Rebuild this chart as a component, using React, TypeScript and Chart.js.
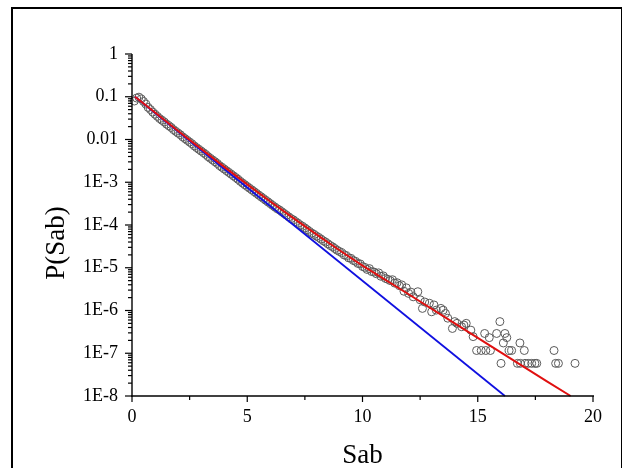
import React, { useEffect, useRef } from 'react';
import { Chart, registerables } from 'chart.js';

Chart.register(...registerables);

// ---- Data ----
const sabValues = [
  0.1, 0.2, 0.3, 0.4, 0.5, 0.6, 0.7, 0.8, 0.9, 1.0,
  1.1, 1.2, 1.3, 1.4, 1.5, 1.6, 1.7, 1.8, 1.9, 2.0,
  2.1, 2.2, 2.3, 2.4, 2.5, 2.6, 2.7, 2.8, 2.9, 3.0,
  3.1, 3.2, 3.3, 3.4, 3.5, 3.6, 3.7, 3.8, 3.9, 4.0,
  4.1, 4.2, 4.3, 4.4, 4.5, 4.6, 4.7, 4.8, 4.9, 5.0,
  5.1, 5.2, 5.3, 5.4, 5.5, 5.6, 5.7, 5.8, 5.9, 6.0,
  6.1, 6.2, 6.3, 6.4, 6.5, 6.6, 6.7, 6.8, 6.9, 7.0,
  7.1, 7.2, 7.3, 7.4, 7.5, 7.6, 7.7, 7.8, 7.9, 8.0,
  8.1, 8.2, 8.3, 8.4, 8.5, 8.6, 8.7, 8.8, 8.9, 9.0,
  9.1, 9.2, 9.3, 9.4, 9.5, 9.6, 9.7, 9.8, 9.9, 10.0,
  10.1, 10.2, 10.3, 10.4, 10.5, 10.6, 10.7, 10.8, 10.9, 11.0,
  11.1, 11.2, 11.3, 11.4, 11.5, 11.6, 11.7, 11.8, 11.9, 12.0,
  12.1, 12.2, 12.4, 12.5, 12.6, 12.7, 12.9, 13.0, 13.1, 13.2,
  13.4, 13.5, 13.6, 13.7, 13.9, 14.0, 14.1, 14.3, 14.4, 14.5,
  14.7, 14.8, 14.95, 15.15, 15.3, 15.35, 15.5, 15.55, 15.82, 15.96,
  16.01, 16.11, 16.18, 16.26, 16.36, 16.47, 16.72, 16.83, 16.85, 17.02,
  17.05, 17.19, 17.34, 17.48, 17.56, 18.31, 18.38, 18.5, 19.22,
];

const pValues = [
  7.94e-2, 9.33e-2, 9.77e-2, 8.91e-2, 7.76e-2, 6.76e-2, 5.62e-2, 5.01e-2, 4.37e-2, 3.89e-2,
  3.47e-2, 3.09e-2, 2.82e-2, 2.57e-2, 2.29e-2, 2.09e-2, 1.91e-2, 1.70e-2, 1.55e-2, 1.41e-2,
  1.29e-2, 1.15e-2, 1.05e-2, 9.55e-3, 8.71e-3, 7.94e-3, 7.08e-3, 6.46e-3, 5.89e-3, 5.37e-3,
  4.90e-3, 4.47e-3, 3.98e-3, 3.63e-3, 3.31e-3, 3.02e-3, 2.75e-3, 2.45e-3, 2.24e-3, 2.04e-3,
  1.86e-3, 1.70e-3, 1.55e-3, 1.41e-3, 1.29e-3, 1.17e-3, 1.05e-3, 9.55e-4, 8.71e-4, 7.94e-4,
  7.24e-4, 6.61e-4, 6.03e-4, 5.50e-4, 5.01e-4, 4.57e-4, 4.17e-4, 3.80e-4, 3.47e-4, 3.16e-4,
  2.88e-4, 2.63e-4, 2.40e-4, 2.24e-4, 2.04e-4, 1.86e-4, 1.70e-4, 1.55e-4, 1.41e-4, 1.32e-4,
  1.20e-4, 1.10e-4, 1.00e-4, 9.33e-5, 8.51e-5, 7.76e-5, 7.08e-5, 6.46e-5, 6.03e-5, 5.50e-5,
  5.13e-5, 4.68e-5, 4.27e-5, 3.98e-5, 3.63e-5, 3.31e-5, 3.09e-5, 2.82e-5, 2.57e-5, 2.40e-5,
  2.24e-5, 2.00e-5, 1.91e-5, 1.70e-5, 1.66e-5, 1.48e-5, 1.41e-5, 1.26e-5, 1.23e-5, 1.07e-5,
  1.02e-5, 9.12e-6, 9.55e-6, 8.13e-6, 7.94e-6, 7.24e-6, 7.59e-6, 6.31e-6, 6.46e-6, 5.62e-6,
  5.37e-6, 5.01e-6, 5.25e-6, 4.37e-6, 4.47e-6, 3.80e-6, 3.98e-6, 2.82e-6, 3.39e-6, 2.51e-6,
  2.69e-6, 2.09e-6, 2.75e-6, 1.78e-6, 1.12e-6, 1.58e-6, 1.48e-6, 9.33e-7, 1.35e-6, 1.02e-6,
  1.12e-6, 1.02e-6, 8.51e-7, 6.61e-7, 3.80e-7, 5.50e-7, 5.01e-7, 4.17e-7, 4.57e-7, 5.01e-7,
  3.47e-7, 2.45e-7, 1.16e-7, 1.16e-7, 2.9e-7, 1.16e-7, 2.32e-7, 1.16e-7, 2.9e-7, 5.5e-7,
  5.8e-8, 1.74e-7, 2.9e-7, 2.32e-7, 1.16e-7, 1.16e-7, 5.8e-8, 1.74e-7, 5.8e-8, 1.16e-7,
  5.8e-8, 5.8e-8, 5.8e-8, 5.8e-8, 5.8e-8, 1.16e-7, 5.8e-8, 5.8e-8, 5.8e-8,
];

const redSab = [0.13, 1, 2, 3, 4, 5, 6, 7, 8, 9, 10, 12, 14, 16, 18, 19.03];
const redP = [
  1.0e-1, 4.27e-2, 1.58e-2, 6.03e-3, 2.29e-3, 8.91e-4, 3.55e-4, 1.45e-4,
  6.03e-5, 2.57e-5, 1.12e-5, 2.40e-6, 5.01e-7, 1.05e-7, 2.19e-8, 1.0e-8,
];

const blueSab = [0.13, 16.18];
const blueP = [1.0e-1, 1.0e-8];

const xTickValues = [0, 5, 10, 15, 20];
const xMinorTicks = [2.5, 7.5, 12.5, 17.5];
const yTickValues = [1, 0.1, 0.01, 1e-3, 1e-4, 1e-5, 1e-6, 1e-7, 1e-8];
const yTickLabels = ['1', '0.1', '0.01', '1E-3', '1E-4', '1E-5', '1E-6', '1E-7', '1E-8'];
const yMinorMultipliers = [2, 3, 4, 5, 6, 7, 8, 9];
const xTitle = 'Sab';
const yTitle = 'P(Sab)';

const FONT = '"Liberation Serif", "Times New Roman", serif';

const axisDecor = {
  id: 'axisDecor',
  afterDraw(chart: any) {
    const { ctx, chartArea, scales } = chart;
    const x = scales.x;
    const y = scales.y;
    const { left, right, top, bottom } = chartArea;
    ctx.save();
    ctx.strokeStyle = '#000';
    ctx.lineWidth = 1.4;
    const line = (x1: number, y1: number, x2: number, y2: number) => {
      ctx.beginPath();
      ctx.moveTo(x1, y1);
      ctx.lineTo(x2, y2);
      ctx.stroke();
    };
    // axis lines
    line(left, top, left, bottom + 0.7);
    line(left - 0.7, bottom, right + 1, bottom);
    ctx.lineWidth = 1.2;
    // y ticks
    yTickValues.forEach((v) => {
      const py = y.getPixelForValue(v);
      line(left - 7, py, left, py);
    });
    yTickValues.slice(1).forEach((d) => {
      yMinorMultipliers.forEach((m) => {
        const py = y.getPixelForValue(d * m);
        line(left - 4, py, left, py);
      });
    });
    // x ticks
    xTickValues.forEach((v) => {
      const px = x.getPixelForValue(v);
      line(px, bottom, px, bottom + 6);
    });
    xMinorTicks.forEach((v) => {
      const px = x.getPixelForValue(v);
      line(px, bottom, px, bottom + 4);
    });
    // titles
    ctx.fillStyle = '#000';
    ctx.font = `27px ${FONT}`;
    ctx.textAlign = 'center';
    ctx.textBaseline = 'alphabetic';
    ctx.fillText(xTitle, (left + right) / 2, 463);
    ctx.translate(57, 243);
    ctx.rotate(-Math.PI / 2);
    ctx.textBaseline = 'middle';
    ctx.fillText(yTitle, 0, 0);
    ctx.restore();
  },
};

export default function App() {
  const canvasRef = useRef<HTMLCanvasElement | null>(null);

  useEffect(() => {
    if (!canvasRef.current) return;
    Chart.defaults.font.family = FONT;
    const chart = new Chart(canvasRef.current, {
      type: 'scatter',
      data: {
        datasets: [
          {
            label: 'red',
            data: redSab.map((s, i) => ({ x: s, y: redP[i] })),
            showLine: true,
            borderColor: '#e01010',
            borderWidth: 2,
            pointRadius: 0,
            fill: false,
            clip: false,
          } as any,
          {
            label: 'blue',
            data: blueSab.map((s, i) => ({ x: s, y: blueP[i] })),
            showLine: true,
            borderColor: '#1010e0',
            borderWidth: 1.8,
            pointRadius: 0,
            fill: false,
            clip: false,
          } as any,
          {
            label: 'data',
            data: sabValues.map((s, i) => ({ x: s, y: pValues[i] })),
            showLine: false,
            pointStyle: 'circle',
            pointRadius: 4,
            borderColor: '#5a5a5a',
            borderWidth: 1,
            backgroundColor: 'rgba(255,255,255,0)',
            clip: false,
          } as any,
        ],
      },
      options: {
        responsive: false,
        animation: false,
        devicePixelRatio: 1,
        events: [],
        layout: { padding: { left: 0, right: 35, top: 54, bottom: 0 } },
        plugins: { legend: { display: false }, tooltip: { enabled: false }, title: { display: false } },
        scales: {
          x: {
            type: 'linear',
            min: 0,
            max: 20,
            grid: { display: false, drawTicks: false },
            border: { display: false },
            afterBuildTicks: (scale: any) => {
              scale.ticks = xTickValues.map((v) => ({ value: v }));
            },
            afterFit: (scale: any) => {
              scale.height = 72;
            },
            ticks: {
              autoSkip: false,
              maxRotation: 0,
              padding: 10,
              color: '#000',
              font: { size: 18, family: FONT },
              callback: (value: any) => String(value),
            },
          },
          y: {
            type: 'logarithmic',
            min: 1e-8,
            max: 1,
            grid: { display: false, drawTicks: false },
            border: { display: false },
            afterBuildTicks: (scale: any) => {
              scale.ticks = yTickValues.map((v) => ({ value: v }));
            },
            afterFit: (scale: any) => {
              scale.width = 132;
            },
            ticks: {
              autoSkip: false,
              padding: 14,
              color: '#000',
              font: { size: 18, family: FONT },
              callback: (value: any) => {
                const idx = yTickValues.findIndex(
                  (v) => Math.abs(Math.log10(v) - Math.log10(Number(value))) < 1e-6
                );
                return idx >= 0 ? yTickLabels[idx] : '';
              },
            },
          },
        },
      } as any,
      plugins: [axisDecor],
    });
    return () => chart.destroy();
  }, []);

  return (
    <div
      style={{
        position: 'fixed',
        left: 0,
        top: 0,
        width: 628,
        height: 468,
        overflow: 'hidden',
        background: '#fff',
      }}
    >
      <div
        style={{
          position: 'absolute',
          left: 11,
          top: 7,
          width: 611,
          height: 520,
          borderTop: '2.5px solid #000',
          borderLeft: '2.5px solid #000',
          borderRight: '1.5px solid #000',
          boxSizing: 'border-box',
        }}
      />
      <canvas
        ref={canvasRef}
        width={628}
        height={468}
        style={{ position: 'absolute', left: 0, top: 0, width: 628, height: 468 }}
      />
    </div>
  );
}
